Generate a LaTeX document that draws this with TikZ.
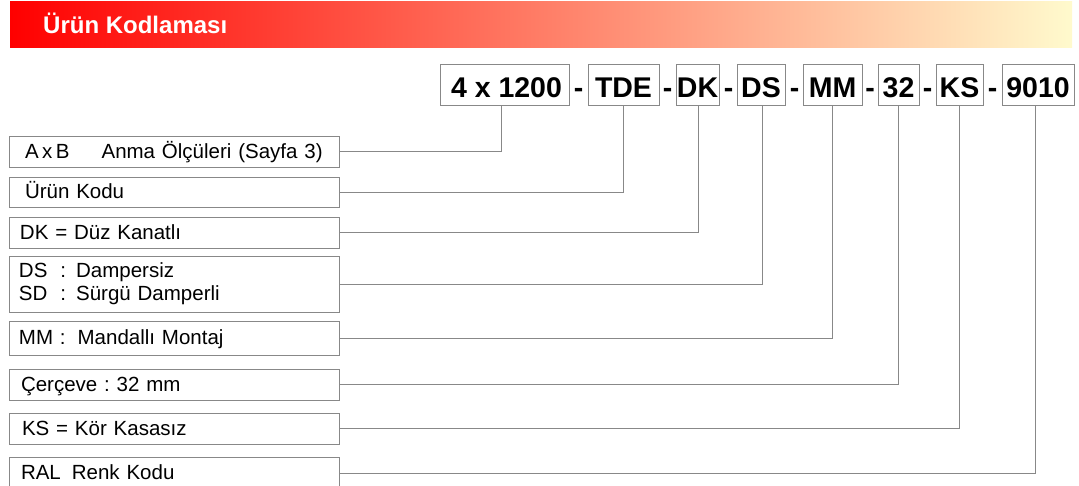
\documentclass[tikz,border=0pt]{standalone}
\usepackage{fontspec}
\setmainfont{Liberation Sans}
\usepackage{tikz}
\definecolor{kopfrot}{RGB}{255,0,0}
\definecolor{kopfgelb}{RGB}{255,250,205}
\definecolor{liniengrau}{RGB}{136,136,136}
\frenchspacing

\begin{document}
\begin{tikzpicture}[x=1pt, y=-1pt,
				code/.style={draw=liniengrau, line width=1pt, minimum height=41pt, inner sep=0pt,
					text height=25.5pt, text depth=0pt, font=\fontsize{28.5}{30}\selectfont\bfseries},
				strich/.style={inner sep=0pt, text height=25.5pt, text depth=0pt,
					font=\fontsize{28.5}{30}\selectfont\bfseries},
				feld/.style={draw=liniengrau, line width=1pt, text width=310pt, inner xsep=10pt,
					inner ysep=0pt, align=left, text height=14pt, text depth=1pt,
					font=\fontsize{20.5}{23}\selectfont},
				verbinder/.style={draw=liniengrau, line width=1pt}]
				%Bildbereich festlegen
				\useasboundingbox (0,0) rectangle (1079,485);
				% Kopfzeile
				\shade[left color=kopfrot, right color=kopfgelb] (10,1) rectangle (1072,47);
				\node[anchor=base west, inner sep=0pt, text=white, font=\fontsize{24}{26}\selectfont\bfseries] (titel) at (43,33) {Ürün Kodlaması};
				% Code-Felder oben
				\node[code, minimum width=129pt] (c1) at (504.5,84.5) {\hspace*{4pt}4 x 1200};
				\node[code, minimum width=71pt] (c2) at (623.5,84.5) {TDE};
				\node[code, minimum width=43pt] (c3) at (697.5,84.5) {DK};
				\node[code, minimum width=48pt] (c4) at (761,84.5) {DS};
				\node[code, minimum width=59pt] (c5) at (832.5,84.5) {MM};
				\node[code, minimum width=41pt] (c6) at (898.5,84.5) {32};
				\node[code, minimum width=47pt] (c7) at (959.5,84.5) {KS};
				\node[code, minimum width=72pt] (c8) at (1038,84.5) {9010};
				% Bindestriche
				\foreach \x [count=\i] in {578.5,667.5,728.5,794.5,870,927.5,992.5}
					\node[strich] (s\i) at (\x,84.5) {-};
				% Erklaerungen links
				\node[feld, minimum height=31pt] (l1) at (174,151.5) {\hspace*{6pt}A\hspace{3.5pt}x\hspace{3.5pt}B\hspace{32pt}Anma Ölçüleri (Sayfa 3)};
				\node[feld, minimum height=30pt] (l2) at (174,192) {\hspace*{6pt}Ürün Kodu};
				\node[feld, minimum height=31pt] (l3) at (174,232.5) {\hspace*{1pt}DK = Düz Kanatlı};
				\node[feld, minimum height=56pt, text height={}, text depth={}] (l4) at (174,284)
					{DS\hspace{13pt}:\hspace{10pt}Dampersiz\\SD\hspace{13pt}:\hspace{10pt}Sürgü Damperli};
				\node[feld, minimum height=34pt] (l5) at (174,338) {MM :\hspace{12pt}Mandallı Montaj};
				\node[feld, minimum height=31pt] (l6) at (174,384.5) {\hspace*{2pt}Çerçeve : 32 mm};
				\node[feld, minimum height=31pt] (l7) at (174,428.5) {\hspace*{3pt}KS = Kör Kasasız};
				\node[feld, minimum height=32pt] (l8) at (174,473) {\hspace*{2pt}RAL\hspace{11pt}Renk Kodu};
				% Verbindungslinien
				\foreach \c/\l/\d in {c1/l1/-3.5, c2/l2/0, c3/l3/1, c4/l4/1.5, c5/l5/0, c6/l6/0, c7/l7/0, c8/l8/-3}
					\draw[verbinder] ([xshift=\d pt]\c.south) |- (\l.east);
			\end{tikzpicture}
\end{document}
